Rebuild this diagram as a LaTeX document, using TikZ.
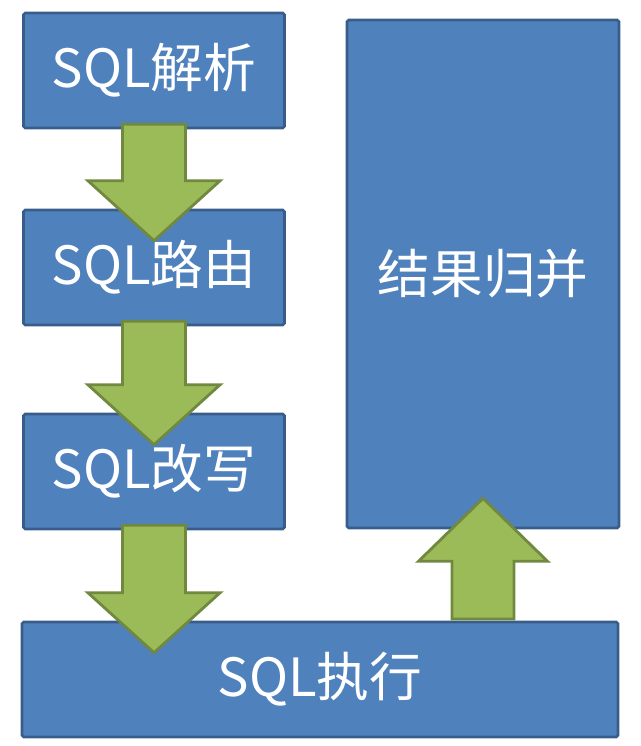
\documentclass[tikz,border=0pt]{standalone}
\usepackage{fontspec}
\setmainfont{Noto Sans CJK SC}
\usetikzlibrary{calc}
\definecolor{boxfill}{HTML}{4F81BD}
\definecolor{boxline}{HTML}{385D8A}
\definecolor{arrfill}{HTML}{9BBB59}
\definecolor{arrline}{HTML}{71893F}
\tikzset{
  box/.style={draw=boxline, fill=boxfill, line width=1.5pt, rounded corners=1pt,
    text=white, font=\fontsize{30}{34}\selectfont, inner sep=0pt},
  garrow/.style={draw=arrline, fill=arrfill, line width=1.6pt, line join=miter}
}
\newcommand\dnarrow[2]{%
  \draw[garrow] let \p1=(#1.south), \p2=(#2.north) in
    (\x1-17.9pt,\y1+2.85pt) -- (\x1+17.9pt,\y1+2.85pt) -- (\x1+17.9pt,\y2+15.9pt)
    -- (\x1+37.6pt,\y2+15.9pt) -- (\x1,\y2-18.2pt) -- (\x1-37.6pt,\y2+15.9pt)
    -- (\x1-17.9pt,\y2+15.9pt) -- cycle;}
\begin{document}
\begin{tikzpicture}[x=0.02cm,y=-0.02cm]
\useasboundingbox (0,0) rectangle (640,746);
\node[box, minimum width=5.22cm, minimum height=2.3cm] (parse) at (154,70.5) {SQL解析};
\node[box, minimum width=5.22cm, minimum height=2.3cm] (route) at (154,267.5) {SQL路由};
\node[box, minimum width=5.22cm, minimum height=2.3cm] (rewrite) at (154,471.5) {SQL改写};
\node[box, minimum width=11.92cm, minimum height=2.3cm] (exec) at (320,679.5) {SQL执行};
\node[box, minimum width=5.44cm, minimum height=10.16cm] (merge) at (483,274) {结果归并};
\dnarrow{parse}{route}
\dnarrow{route}{rewrite}
\dnarrow{rewrite}{exec}
\draw[garrow] let \p1=(merge.south), \p2=(exec.north) in
  (\x1-17.6pt,\y2+1pt) -- (\x1+17.6pt,\y2+1pt) -- (\x1+17.6pt,\y1-18.2pt)
  -- (\x1+36.7pt,\y1-18.2pt) -- (\x1,\y1+17.6pt) -- (\x1-36.7pt,\y1-18.2pt)
  -- (\x1-17.6pt,\y1-18.2pt) -- cycle;
\end{tikzpicture}
\end{document}
